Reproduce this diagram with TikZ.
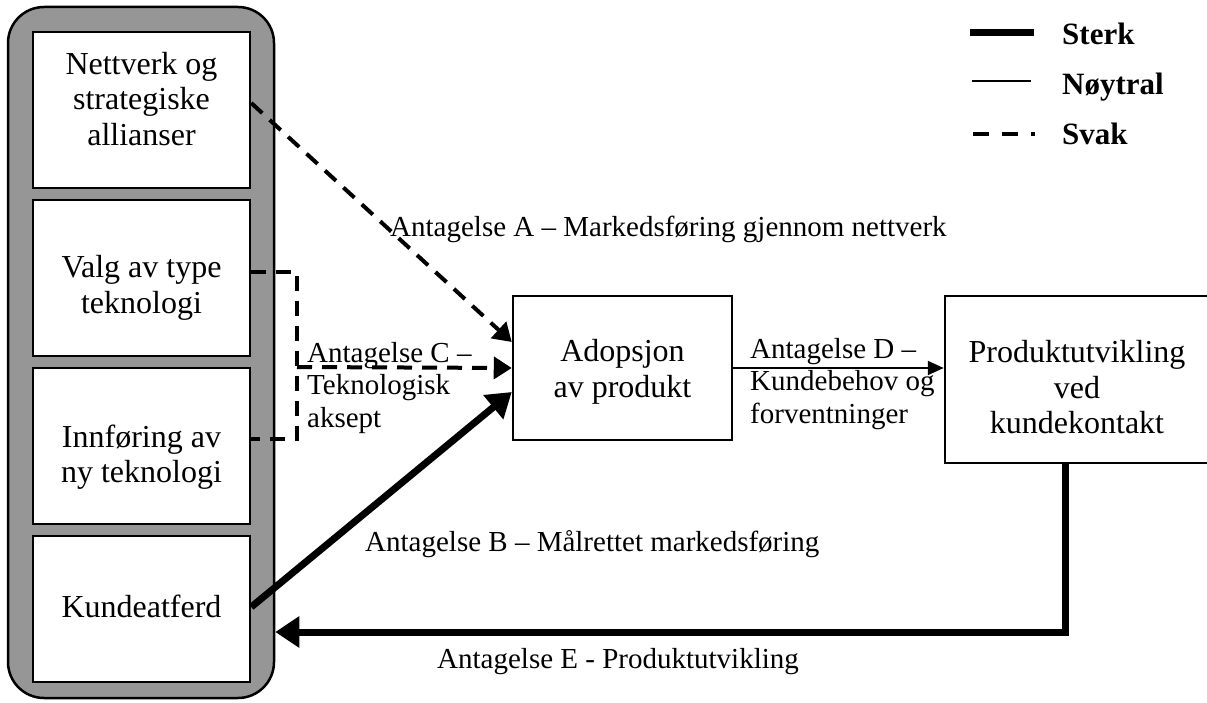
\documentclass[tikz,border=0pt]{standalone}
\usepackage{fontspec}
\setmainfont{Liberation Serif}
\usetikzlibrary{arrows.meta}
\definecolor{panelgray}{RGB}{150,150,150}
\tikzset{
  box/.style={draw, line width=2.5pt, fill=white, inner sep=0pt},
  boxtext/.style={align=center, inner sep=0pt,
    font=\fontsize{32}{35.5}\selectfont},
  lab/.style={anchor=base west, inner sep=0pt, align=left,
    font=\fontsize{29}{32.5}\selectfont},
  legtext/.style={anchor=base west, inner sep=0pt,
    font=\fontsize{31}{36}\selectfont\bfseries},
  strong/.style={line width=7pt},
  neutral/.style={line width=2pt},
  weak/.style={line width=4pt, dash pattern=on 15pt off 10pt},
  headW/.style={-{Triangle[length=18pt,width=22pt]}},
  headS/.style={-{Triangle[length=24pt,width=30pt]}},
  headN/.style={-{Triangle[length=16pt,width=14pt]}}
}
\begin{document}
\begin{tikzpicture}[x=1pt,y=-1pt]
\useasboundingbox (0,0) rectangle (1207,703);
% left panel
\node[draw, line width=2.5pt, fill=panelgray, rounded corners=36pt,
      minimum width=266pt, minimum height=691pt, inner sep=0pt] (panel) at (141,352.5) {};
\node[box, minimum width=217pt, minimum height=156pt] (n1) at (141.5,110) {};
\node[box, minimum width=217pt, minimum height=156pt] (n2) at (141.5,278) {};
\node[box, minimum width=217pt, minimum height=156pt] (n3) at (141.5,446) {};
\node[box, minimum width=217pt, minimum height=146pt] (n4) at (141.5,609) {};
\node[boxtext] (t1) at ([yshift=11pt]n1.center) {Nettverk og\\strategiske\\allianser};
\node[boxtext] (t2) at ([yshift=-10pt]n2.center) {Valg av type\\teknologi};
\node[boxtext] (t3) at ([yshift=-11pt]n3.center) {Innføring av\\ny teknologi};
\node[boxtext] (t4) at ([yshift=3pt]n4.center) {Kundeatferd};
% main boxes
\node[box, minimum width=219pt, minimum height=144pt] (adop) at (622.5,368) {};
\node[box, minimum width=264pt, minimum height=167pt] (prod) at (1077,379.5) {};
\node[boxtext] (t5) at ([yshift=-4pt]adop.center) {Adopsjon\\av produkt};
\node[boxtext] (t6) at ([yshift=-8pt]prod.center) {Produktutvikling\\ved\\kundekontakt};
% connectors
\coordinate (cj) at (297,367);
\coordinate (ebend) at (1065,632);
\draw[weak, headW] ([yshift=7pt]n1.east) -- ([yshift=26pt]adop.west);
\draw[weak] ([yshift=6pt]n2.east) -| (cj) |- ([yshift=7pt]n3.east);
\draw[weak, headW] (cj) -- (adop.west);
\draw[strong, headS] ([yshift=2pt]n4.east) -- ([yshift=-24pt]adop.west);
\draw[neutral, headN] (adop.east) -- (adop.east -| prod.west);
\draw[strong, headS] ([xshift=-12pt]prod.south) -- (ebend) -- (ebend -| panel.east);
% labels
\node[lab] (la) at (390,237) {Antagelse A – Markedsføring gjennom nettverk};
\node[lab] (lb) at (365,551) {Antagelse B – Målrettet markedsføring};
\node[lab] (lc) at (307,427) {Antagelse C –\\Teknologisk\\aksept};
\node[lab] (ld) at (750,423) {Antagelse D –\\Kundebehov og\\forventninger};
\node[lab] (le) at (437,668) {Antagelse E - Produktutvikling};
% legend
\coordinate (s1) at (970,33);  \coordinate (s2) at (1034,33);
\coordinate (t1) at (972,81);  \coordinate (t2) at (1031,81);
\coordinate (w1) at (973,134); \coordinate (w2) at (1035,134);
\draw[strong] (s1) -- (s2);
\draw[neutral] (t1) -- (t2);
\draw[line width=4pt, dash pattern=on 16pt off 13pt] (w1) -- (w2);
\node[legtext] (lg1) at (1062,45) {Sterk};
\node[legtext] (lg2) at (1062,95) {Nøytral};
\node[legtext] (lg3) at (1062,145) {Svak};
\end{tikzpicture}
\end{document}
